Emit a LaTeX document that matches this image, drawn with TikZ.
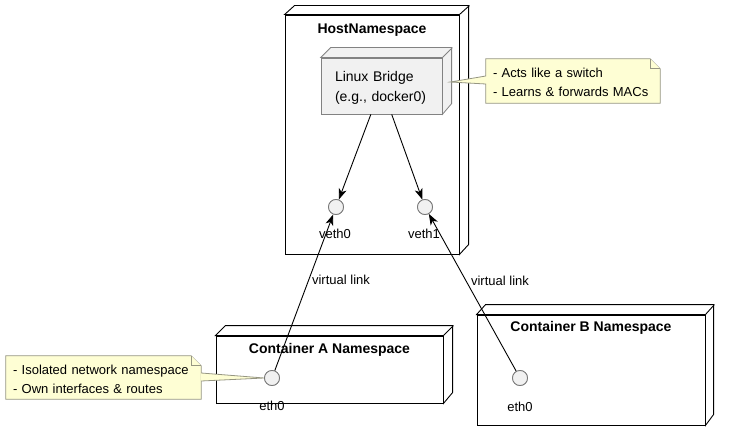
\documentclass[tikz,border=0pt]{standalone}
\usepackage{fontspec}
\setmainfont{Liberation Sans}
\usetikzlibrary{arrows.meta}
\definecolor{notefill}{RGB}{254,254,212}
\definecolor{noteline}{RGB}{150,150,130}
\definecolor{ifill}{RGB}{241,241,241}
\definecolor{iline}{RGB}{120,120,120}
\definecolor{bline}{RGB}{130,130,130}
\begin{document}
\begin{tikzpicture}[x=1pt,y=-1pt,
  face/.style={draw=black, line width=0.9pt, fill=white, inner sep=0pt},
  edge3d/.style={draw=black, line width=0.9pt, fill=white, line join=miter},
  bridgebox/.style={draw=bline, line width=0.8pt, fill=ifill, inner xsep=14pt, inner ysep=0pt,
     text width=93pt, align=left, font=\fontsize{14}{20}\selectfont},
  bedge/.style={draw=bline, line width=0.8pt, fill=ifill},
  notebox/.style={inner xsep=7pt, inner ysep=0pt, align=left, font=\fontsize{13}{19}\selectfont},
  noteshape/.style={draw=noteline, line width=0.8pt, fill=notefill},
  titletext/.style={font=\fontsize{14}{16}\selectfont\bfseries},
  lbl/.style={font=\fontsize{13}{16}\selectfont},
  iface/.style={circle, draw=iline, fill=ifill, minimum size=15pt, inner sep=0pt, line width=0.8pt},
  arr/.style={draw=black, line width=0.9pt, -{Stealth[length=11pt,width=8pt,inset=3pt]}}
]
\useasboundingbox (0,0) rectangle (730,441);
\fill[white] (0,0) rectangle (730,441);

% Host namespace
\node[face, minimum width=174pt, minimum height=239pt] (host) at (372,134.5) {};
\draw[edge3d] (host.north west) -- ++(10,-9) -- ++(174,0) -- ++(0,239) -- (host.south east) -- (host.north east) -- cycle;
\draw[edge3d] (host.north east) -- ++(10,-9);
\node[titletext] (hosttitle) at (372,30) {HostNamespace};

% Linux bridge
\node[bridgebox, minimum width=121pt, minimum height=56pt] (bridge) at (381.5,86) {};
\draw[bedge] (bridge.north west) -- ++(10,-10) -- ++(121,0) -- ++(0,56) -- (bridge.south east) -- (bridge.north east) -- cycle;
\draw[bedge] (bridge.north east) -- ++(10,-10);
\node[bridgebox, draw=none, fill=none, minimum width=121pt, minimum height=56pt] (bridgetext) at (381.5,88) {Linux Bridge\\(e.g., docker0)};

% Note for bridge
\node[notebox, minimum width=174pt, minimum height=44pt, text width=160pt] (note1) at (573,81) {};
\coordinate (tip1) at ([shift={(8pt,4pt)}]bridge.east);
\draw[noteshape] (note1.north west) -- ([xshift=-10pt]note1.north east) -- ([yshift=-10pt]note1.north east)
  -- (note1.south east) -- (note1.south west) -- ([yshift=-3pt]note1.west) -- (tip1) -- ([yshift=5pt]note1.west) -- cycle;
\draw[noteshape] ([xshift=-10pt]note1.north east) -- ([shift={(-10pt,-10pt)}]note1.north east) -- ([yshift=-10pt]note1.north east);
\node[notebox, minimum width=174pt, minimum height=44pt, text width=160pt] (note1text) at (573,82) {- Acts like a switch\\- Learns \& forwards MACs};

% Container A
\node[face, minimum width=227pt, minimum height=67pt] (contA) at (329.5,369.5) {};
\draw[edge3d] (contA.north west) -- ++(10,-10) -- ++(227,0) -- ++(0,67) -- (contA.south east) -- (contA.north east) -- cycle;
\draw[edge3d] (contA.north east) -- ++(10,-10);
\node[titletext] (contAtitle) at (329.5,350) {Container A Namespace};

% Container B
\node[face, minimum width=228pt, minimum height=110pt] (contB) at (591,370) {};
\draw[edge3d] (contB.north west) -- ++(9,-10) -- ++(228,0) -- ++(0,110) -- (contB.south east) -- (contB.north east) -- cycle;
\draw[edge3d] (contB.north east) -- ++(9,-10);
\node[titletext] (contBtitle) at (591,328) {Container B Namespace};

% Note for container A
\node[notebox, minimum width=195pt, minimum height=43pt, text width=181pt] (note2) at (103.5,377.5) {};

% Interfaces
\node[iface] (veth0) at (336,207) {};
\node[iface] (veth1) at (425,207) {};
\node[iface] (ethA) at (272,378) {};
\node[iface] (ethB) at (520,378) {};
\node[lbl] (veth0l) at (335,234) {veth0};
\node[lbl] (veth1l) at (424,234) {veth1};
\node[lbl] (ethAl) at (272,406) {eth0};
\node[lbl] (ethBl) at (520,407) {eth0};

\draw[noteshape] (note2.north west) -- ([xshift=-10pt]note2.north east) -- ([yshift=-10pt]note2.north east)
  -- (note2.south east) -- (note2.south west) -- (note2.north west) -- cycle;
\fill[notefill] ([yshift=4.5pt]note2.east) -- (ethA.west) -- ([yshift=-3.5pt]note2.east) -- cycle;
\draw[noteline, line width=0.8pt] ([yshift=4.5pt]note2.east) -- (ethA.west) -- ([yshift=-3.5pt]note2.east);
\draw[noteshape] ([xshift=-10pt]note2.north east) -- ([shift={(-10pt,-10pt)}]note2.north east) -- ([yshift=-10pt]note2.north east);
\node[notebox, minimum width=195pt, minimum height=43pt, text width=181pt] (note2text) at (103.5,379) {- Isolated network namespace\\- Own interfaces \& routes};

% Connectors
\draw[arr] (bridge) -- (veth0);
\draw[arr] (bridge) -- (veth1);
\draw[arr] (ethA) -- (veth0);
\draw[arr] (ethB) -- (veth1);
\node[lbl] (vl1) at (341,280) {virtual link};
\node[lbl] (vl2) at (500,281) {virtual link};

% redraw interfaces on top
\node[iface] at (veth0) {};
\node[iface] at (veth1) {};
\node[iface] at (ethA) {};
\node[iface] at (ethB) {};
\end{tikzpicture}
\end{document}
